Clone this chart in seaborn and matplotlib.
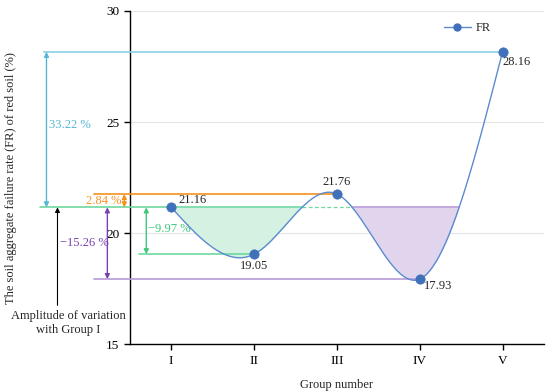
import numpy as np
import pandas as pd
import matplotlib
matplotlib.use("Agg")
import matplotlib.pyplot as plt
import seaborn as sns

groups = ['I', 'II', 'III', 'IV', 'V']
fr_values = [21.16, 19.05, 21.76, 17.93, 28.16]
amplitude_labels = ['33.22 %', '2.84 %', '\u221215.26 %', '\u22129.97 %']

c_line = '#5b8bd0'
c_mark = '#3f70ba'
c_cyan = '#86d0e4'
c_cyan_t = '#55b6d6'
c_orange = '#f5921e'
c_green = '#6ed8a0'
c_green_t = '#3ec87c'
c_green_f = '#d4f1e1'
c_purple = '#b89ad8'
c_purple_t = '#7a40b2'
c_purple_f = '#e1d5ee'


def natural_spline(x, y, xs):
    # plain natural cubic spline, only used to draw the smooth line
    x = np.asarray(x, float)
    y = np.asarray(y, float)
    n = len(x)
    h = np.diff(x)
    A = np.zeros((n, n))
    b = np.zeros(n)
    A[0, 0] = A[-1, -1] = 1
    for i in range(1, n - 1):
        A[i, i - 1] = h[i - 1]
        A[i, i] = 2 * (h[i - 1] + h[i])
        A[i, i + 1] = h[i]
        b[i] = 3 * ((y[i + 1] - y[i]) / h[i] - (y[i] - y[i - 1]) / h[i - 1])
    c = np.linalg.solve(A, b)
    out = np.empty_like(xs)
    for j, xv in enumerate(xs):
        i = min(max(np.searchsorted(x, xv) - 1, 0), n - 2)
        dx = xv - x[i]
        bi = (y[i + 1] - y[i]) / h[i] - h[i] * (2 * c[i] + c[i + 1]) / 3
        di = (c[i + 1] - c[i]) / (3 * h[i])
        out[j] = y[i] + bi * dx + c[i] * dx ** 2 + di * dx ** 3
    return out


xpos = np.arange(1, len(groups) + 1)
xs = np.linspace(1, 5, 801)
ys = natural_spline(xpos, fr_values, xs)
df_pts = pd.DataFrame({'x': xpos, 'FR': fr_values})
df_curve = pd.DataFrame({'x': xs, 'FR': ys})

base = fr_values[0]
# crossings of the smooth curve with the Group I level
sign = np.sign(ys - base)
idx = np.where(np.diff(sign) != 0)[0]
cross = [xs[i] for i in idx if xs[i] > 1.05]
x_c1, x_c2, x_c3 = cross[0], cross[1], cross[2]

sns.set_theme(style="ticks")
plt.rcParams['font.family'] = ['Liberation Serif', 'DejaVu Serif']

fig = plt.figure(figsize=(5.5, 3.92), dpi=100)
ax = fig.add_axes([0.236, 0.122, 0.753, 0.85])

ax.fill_between(xs, ys, base, where=(xs >= 1) & (xs <= x_c1),
                color=c_green_f, lw=0, zorder=1)
ax.fill_between(xs, ys, base, where=(xs >= x_c2) & (xs <= x_c3),
                color=c_purple_f, lw=0, zorder=1)

sns.lineplot(data=df_curve, x='x', y='FR', ax=ax, color=c_line, lw=1,
             zorder=4, legend=False, sort=False)
sns.scatterplot(data=df_pts, x='x', y='FR', ax=ax, color=c_mark, s=45,
                edgecolor=c_mark, zorder=5, legend=False)

# reference lines (extend left of the axes)
ax.plot([-0.54, 5], [fr_values[4]] * 2, color=c_cyan, lw=1.2, clip_on=False, zorder=3)
ax.plot([0.07, 3], [fr_values[2]] * 2, color=c_orange, lw=1.2, clip_on=False, zorder=3)
ax.plot([-0.59, x_c1], [base] * 2, color=c_green, lw=1.2, clip_on=False, zorder=3)
ax.plot([x_c1, x_c2], [base] * 2, color=c_green, lw=0.9, ls=(0, (3, 2)), zorder=3)
ax.plot([x_c2, x_c3], [base] * 2, color=c_purple, lw=1.2, zorder=3)
ax.plot([0.61, 2], [fr_values[1]] * 2, color=c_green, lw=1.2, clip_on=False, zorder=3)
ax.plot([0.07, 4], [fr_values[3]] * 2, color=c_purple, lw=1.2, clip_on=False, zorder=3)


def darrow(x, y0, y1, color):
    ax.annotate('', xy=(x, y1), xytext=(x, y0), annotation_clip=False,
                arrowprops=dict(arrowstyle='<|-|>', color=color, lw=1,
                                mutation_scale=7, shrinkA=0, shrinkB=0))


darrow(-0.506, base, fr_values[4], c_cyan_t)
darrow(0.434, base, fr_values[2], c_orange)
darrow(0.229, base, fr_values[3], c_purple_t)
darrow(0.699, base, fr_values[1], c_green_t)

ax.text(-0.48, 24.85, amplitude_labels[0], color=c_cyan_t, fontsize=9,
        ha='left', va='center', clip_on=False)
ax.text(0.40, 21.43, amplitude_labels[1], color=c_orange, fontsize=9,
        ha='right', va='center', clip_on=False)
ax.text(0.25, 19.55, amplitude_labels[2], color=c_purple_t, fontsize=9,
        ha='right', va='center', clip_on=False)
ax.text(0.72, 20.2, amplitude_labels[3], color=c_green_t, fontsize=9,
        ha='left', va='center', clip_on=False)

ax.annotate('', xy=(-0.373, base), xytext=(-0.373, 16.75), annotation_clip=False,
            arrowprops=dict(arrowstyle='-|>', color='black', lw=0.8,
                            mutation_scale=7, shrinkA=0, shrinkB=0))
ax.text(-0.24, 15.95, 'Amplitude of variation\nwith Group I', fontsize=9,
        ha='center', va='center', linespacing=1.3, clip_on=False)

offsets = [((5, 1), 'left', 'bottom'), ((0, -4), 'center', 'top'),
           ((0, 4), 'center', 'bottom'), ((3, -1), 'left', 'top'),
           ((0, -3), 'left', 'top')]
for xv, yv, (off, ha, va) in zip(xpos, fr_values, offsets):
    ax.annotate(f'{yv:.2f}', (xv, yv), xytext=off, textcoords='offset points',
                ha=ha, va=va, fontsize=9, zorder=6)

ax.set_xlim(0.5, 5.5)
ax.set_ylim(15, 30)
ax.set_xticks(xpos)
ax.set_xticklabels(groups)
ax.set_yticks([15, 20, 25, 30])
ax.yaxis.grid(True, color='#e6e6e6', lw=0.8)
ax.set_axisbelow(True)
sns.despine(ax=ax)
for sp in ['left', 'bottom']:
    ax.spines[sp].set_color('black')
    ax.spines[sp].set_linewidth(1)
ax.tick_params(axis='both', direction='out', length=4, width=1, colors='black',
               labelsize=9.5)
ax.set_xlabel('Group number', fontsize=9)
ax.xaxis.set_label_coords(0.5, -0.105)
ax.set_ylabel('The soil aggregate failure rate (FR) of red soil (%)', fontsize=9)
ax.yaxis.set_label_coords(-0.272, 0.5)

h = plt.Line2D([], [], color=c_line, lw=1, marker='o', markersize=5,
               markerfacecolor=c_mark, markeredgecolor=c_mark)
ax.legend([h], ['FR'], loc='upper right', bbox_to_anchor=(0.9, 1.0),
          frameon=False, fontsize=9, handlelength=2.2, handletextpad=0.4)

fig.savefig('out.png', dpi=100)
